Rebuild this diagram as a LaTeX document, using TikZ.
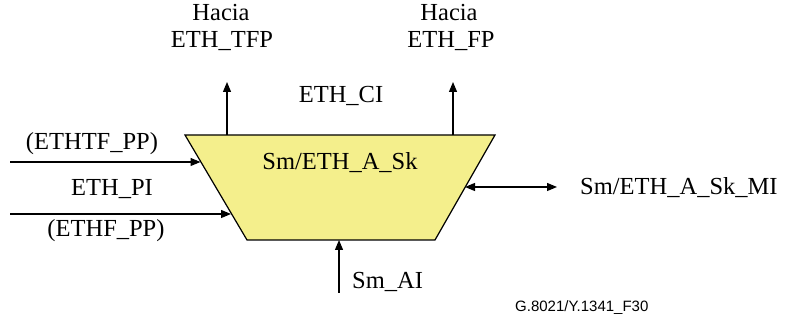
\documentclass[tikz,border=0pt]{standalone}
\usepackage{fontspec}
\setmainfont{Liberation Serif}
\newfontfamily\figfont{Liberation Sans}
\usetikzlibrary{arrows.meta}
\definecolor{boxyellow}{HTML}{F4EF8C}
\tikzset{
  lbl/.style={inner sep=0pt, font=\fontsize{24.5}{26}\selectfont},
  conn/.style={line width=1.2pt, -{Triangle[length=10pt,width=8pt]}},
  dconn/.style={line width=1.2pt, {Triangle[length=10pt,width=8pt]}-{Triangle[length=10pt,width=8pt]}},
  blockshape/.style={draw, line width=1.2pt, fill=boxyellow}
}
\begin{document}
\begin{tikzpicture}[x=1pt,y=1pt]
\useasboundingbox (0,0) rectangle (790,-320);
% trapezoid
\coordinate (tl) at (185,-135);
\coordinate (tr) at (495,-135);
\coordinate (br) at (435,-240);
\coordinate (bl) at (247,-240);
\draw[blockshape] (tl) -- (tr) -- (br) -- (bl) -- cycle;
\node[lbl, anchor=base] (title) at (340,-170) {Sm/ETH\_A\_Sk};
% top outputs
\coordinate (o1s) at (227,-135);
\coordinate (o1e) at (227,-82);
\coordinate (o2s) at (453,-135);
\coordinate (o2e) at (453,-82);
\draw[conn] (o1s) -- (o1e);
\draw[conn] (o2s) -- (o2e);
\node[lbl, anchor=base] (h1) at (221,-21) {Hacia};
\node[lbl, anchor=base] (t1) at (222,-48) {ETH\_TFP};
\node[lbl, anchor=base] (h2) at (449,-21) {Hacia};
\node[lbl, anchor=base] (t2) at (451,-48) {ETH\_FP};
\node[lbl, anchor=base] (ci) at (341,-103) {ETH\_CI};
% left inputs
\coordinate (i1s) at (10,-162);
\coordinate (i1e) at (200.5,-162);
\coordinate (i2s) at (10,-214);
\coordinate (i2e) at (231,-214);
\draw[conn] (i1s) -- (i1e);
\draw[conn] (i2s) -- (i2e);
\node[lbl, anchor=base] (pp1) at (92,-150) {(ETHTF\_PP)};
\node[lbl, anchor=base] (pi) at (112,-196) {ETH\_PI};
\node[lbl, anchor=base] (pp2) at (106,-237) {(ETHF\_PP)};
% right MI
\coordinate (mia) at (465,-187);
\coordinate (mib) at (557,-187);
\draw[dconn] (mia) -- (mib);
\node[lbl, anchor=base west] (mi) at (580,-195) {Sm/ETH\_A\_Sk\_MI};
% bottom AI
\coordinate (ais) at (339,-293);
\coordinate (aie) at (339,-240);
\draw[conn] (ais) -- (aie);
\node[lbl, anchor=base west] (ai) at (352,-289) {Sm\_AI};
% figure id
\node[inner sep=0pt, anchor=base west, font=\figfont\fontsize{15}{17}\selectfont] (fid) at (515,-312) {G.8021/Y.1341\_F30};
\end{tikzpicture}
\end{document}
